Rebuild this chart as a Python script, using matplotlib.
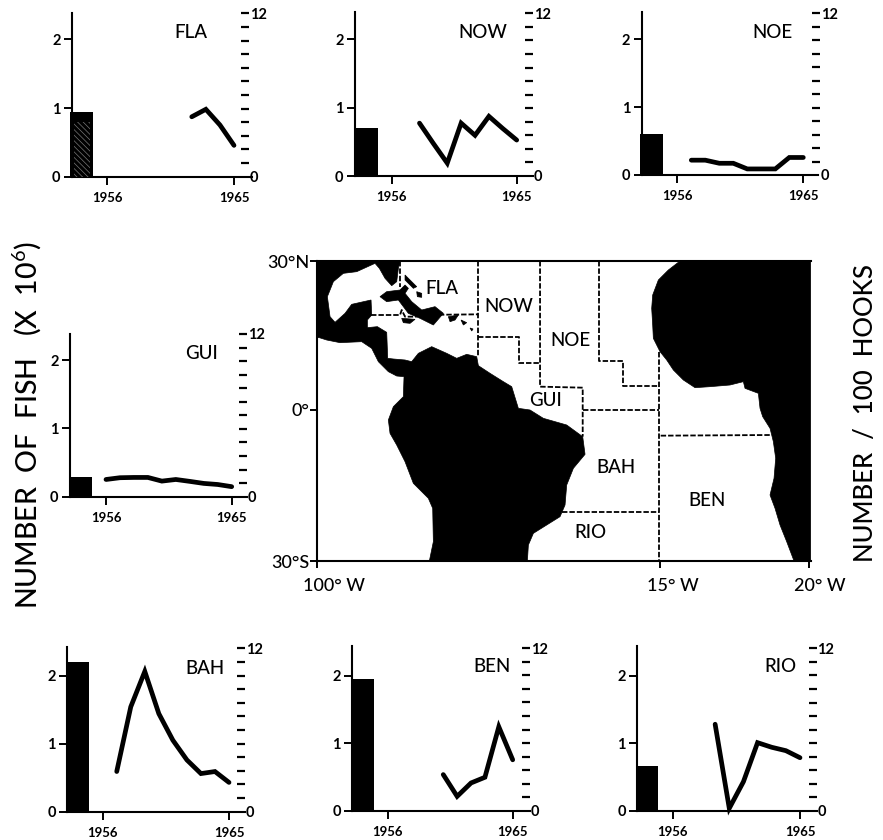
import matplotlib
matplotlib.use("Agg")
import matplotlib.pyplot as plt
import numpy as np
from matplotlib.patches import Polygon
from matplotlib.transforms import ScaledTranslation

plt.rcParams['font.family'] = ['Lato', 'DejaVu Sans']
plt.rcParams['mathtext.fontset'] = 'custom'
plt.rcParams['mathtext.rm'] = 'Lato'
plt.rcParams['hatch.linewidth'] = 0.5
W, H = 883, 840

# ---- data -----------------------------------------------------------
regions = ['FLA', 'NOW', 'NOE', 'GUI', 'BAH', 'BEN', 'RIO']
catch_millions = [0.94, 0.70, 0.60, 0.29, 2.20, 1.95, 0.67]
years_fla = [1962, 1963, 1964, 1965]
rate_fla = [4.4, 4.95, 3.8, 2.3]
years_now = [1958, 1959, 1960, 1961, 1962, 1963, 1964, 1965]
rate_now = [3.9, 2.4, 0.95, 3.9, 3.0, 4.4, 3.5, 2.65]
years_noe = [1957, 1958, 1959, 1960, 1961, 1962, 1963, 1964, 1965]
rate_noe = [1.1, 1.1, 0.87, 0.87, 0.45, 0.45, 0.45, 1.3, 1.3]
years_gui = [1956, 1957, 1958, 1959, 1960, 1961, 1962, 1963, 1964, 1965]
rate_gui = [1.27, 1.4, 1.42, 1.42, 1.15, 1.27, 1.13, 0.98, 0.9, 0.74]
years_bah = [1957, 1958, 1959, 1960, 1961, 1962, 1963, 1964, 1965]
rate_bah = [2.95, 7.7, 10.3, 7.2, 5.25, 3.8, 2.8, 2.95, 2.15]
years_ben = [1960, 1961, 1962, 1963, 1964, 1965]
rate_ben = [2.67, 1.06, 2.05, 2.47, 6.2, 3.76]
years_rio = [1959, 1960, 1961, 1962, 1963, 1964, 1965]
rate_rio = [6.4, 0.2, 2.16, 5.04, 4.7, 4.45, 3.93]
series = dict(FLA=(years_fla, rate_fla), NOW=(years_now, rate_now),
              NOE=(years_noe, rate_noe), GUI=(years_gui, rate_gui),
              BAH=(years_bah, rate_bah), BEN=(years_ben, rate_ben),
              RIO=(years_rio, rate_rio))
BAR_YEAR, BAR_WIDTH = 1954.18, 1.62

# map outlines, in tracing units
land_americas = [(80,48),(330,48),(325,70),(320,110),(305,122),(285,100),(268,70),(255,55),
    (200,80),(160,85),(130,110),(112,155),(120,215),(135,232),(165,205),(185,178),(243,165),(245,210),
    (232,225),(232,248),(262,245),(290,262),(293,340),(310,342),(345,345),(365,350),(385,325),(425,305),
    (470,325),(500,340),(530,328),(560,335),(565,362),(600,385),(640,410),(665,425),(685,490),(720,495),
    (760,520),(830,540),(878,575),(885,628),(850,670),(830,720),(825,780),(810,815),(770,840),(730,865),
    (715,900),(712,948),(418,948),(430,890),(428,790),(415,760),(370,715),(345,650),(320,600),(300,565),
    (295,525),(310,485),(340,455),(342,395),(320,393),(295,380),(265,350),(245,310),(215,290),(150,293),
    (110,285),(88,278),(80,278)]
land_africa = [(1170,48),(1135,75),(1105,105),(1088,150),(1085,190),(1088,240),(1090,280),(1110,320),
    (1130,345),(1150,375),(1180,405),(1215,428),(1260,425),(1320,420),(1360,410),(1365,430),(1405,445),
    (1410,490),(1418,515),(1440,550),(1450,590),(1457,640),(1452,700),(1440,750),(1455,790),(1470,840),
    (1490,890),(1512,948),(1562,948),(1562,48)]
islands = [
    [(270,155),(290,140),(330,135),(345,120),(355,130),(345,145),(365,170),(395,195),(435,185),(460,205),
     (430,240),(390,220),(355,205),(325,165),(290,170)],
    [(335,220),(375,223),(360,235),(340,233)],
    [(475,215),(505,210),(495,225),(480,230)],
    [(345,90),(380,125),(370,130),(345,105)],
    [(380,140),(395,145),(395,157),(382,155)],
    [(513,225),(530,233),(520,240)],
    [(540,249),(549,252),(545,258)],
]
boundaries = [
    [(330,48),(330,125)],
    [(243,210),(330,210),(335,195),(345,215),(380,215)],
    [(380,210),(565,208)],
    [(563,48),(563,335)],
    [(563,277),(687,277),(687,355),(750,355)],
    [(750,48),(750,425),(878,428),(878,575)],
    [(928,48),(928,348),(998,348),(998,423),(1108,423)],
    [(878,495),(1108,495)],
    [(1108,320),(1108,948)],
    [(1112,572),(1445,570)],
    [(815,800),(1108,800)],
]
map_labels = dict(FLA=(456,130), NOW=(657,185), NOE=(840,288), GUI=(765,468),
                  BAH=(978,668), BEN=(1252,766), RIO=(900,862))

# ---- panel layout (pixels) -------------------------------------------
#          spine  end  zero  two  top  y12  t56    t65    right tick
layout = dict(
    FLA=(72.0, 252.0, 176.7, 39.3, 13.0, 13.3, 107.3, 234.0, 245.0),
    NOW=(355.0, 533.0, 176.0, 39.3, 12.0, 13.3, 391.7, 516.7, 529.0),
    NOE=(641.7, 818.0, 175.0, 39.3, 12.0, 13.3, 677.3, 803.3, 816.0),
    GUI=(70.0, 246.7, 496.7, 360.0, 334.0, 333.5, 106.0, 231.7, 243.0),
    BAH=(67.3, 245.0, 811.7, 675.7, 646.7, 648.3, 102.7, 229.0, 241.0),
    BEN=(352.3, 530.0, 810.7, 675.7, 646.0, 648.3, 387.7, 512.7, 526.0),
    RIO=(637.3, 816.7, 811.0, 675.7, 646.0, 648.3, 672.7, 800.0, 812.5),
)
title_pos = dict(FLA=(191, 32), NOW=(483, 32), NOE=(772, 32), GUI=(202, 353),
                 BAH=(205, 668), BEN=(492, 667), RIO=(780, 667))
bar_hatch = dict(FLA='\\\\\\\\\\\\')

fig = plt.figure(figsize=(W/100, H/100), dpi=100, facecolor='white')
PX = 0.72  # points per pixel

def panel(name, catch):
    l, r, z, two, top, y12, t56, t65, rt = layout[name]
    ax = fig.add_axes([l/W, 1-z/H, (r-l)/W, (z-top)/H])
    step = (t65-t56)/9
    ax.set_xlim(1956+(l-t56)/step, 1956+(r-t56)/step)
    ax.set_ylim(0, (z-top)/(z-two)*2)
    ax.patch.set_alpha(0)
    for s in ('top', 'right'):
        ax.spines[s].set_visible(False)
    for s in ('left', 'bottom'):
        ax.spines[s].set_linewidth(1.5)
    ax.bar([BAR_YEAR], [catch], width=BAR_WIDTH, color='black', clip_on=False, zorder=3)
    if name in bar_hatch:
        ax.bar([BAR_YEAR], [catch*0.85], width=BAR_WIDTH*0.7, facecolor='none', edgecolor='#777777',
               linewidth=0, hatch=bar_hatch[name], zorder=4)
    ax.set_xticks([1956, 1965], ['1956', '1965'], fontsize=9.5, fontweight='bold')
    ax.set_yticks([0, 1, 2], ['0', '1', '2'], fontsize=10.5, fontweight='bold')
    ax.tick_params(axis='both', length=8*PX, width=1.4, pad=2.5)
    ax.tick_params(axis='x', pad=5)
    ax2 = ax.twinx()
    ax2.set_ylim(0, (z-top)/(z-y12)*12)
    for s in ('top', 'left', 'bottom'):
        ax2.spines[s].set_visible(False)
    ax2.spines['right'].set_position(('outward', (rt-r)*PX))
    ax2.spines['right'].set_visible(False)
    ax2.set_yticks(np.arange(0, 13))
    ax2.set_yticklabels(['0'] + ['']*11 + ['12'], fontsize=10.5, fontweight='bold')
    ax2.tick_params(axis='y', direction='inout', length=8*PX, width=1.6, pad=0.5)
    ax2.get_yaxis().get_major_ticks()[0].tick2line.set_visible(False)
    yrs, vals = series[name]
    ax2.plot(yrs, vals, color='black', lw=3.4, solid_capstyle='round', solid_joinstyle='miter', clip_on=False)
    fig.text(title_pos[name][0]/W, 1-title_pos[name][1]/H, name, fontsize=13.5,
             ha='center', va='center', fontweight='medium')

for name, catch in zip(regions, catch_millions):
    panel(name, catch)

# ---- map -------------------------------------------------------------
ml, mr, mt, mb = 316.7, 810.7, 261.0, 561.0
m = fig.add_axes([ml/W, 1-mb/H, (mr-ml)/W, (mb-mt)/H])
m.set_xlim(80, 1562)
m.set_ylim(948, 48)
for poly in [land_americas, land_africa] + islands:
    m.add_patch(Polygon(poly, closed=True, fc='black', ec='black', lw=0.5, zorder=2))
for seg in boundaries:
    xs, ys = zip(*seg)
    m.plot(xs, ys, color='black', lw=1.3, dashes=(3, 1.1), zorder=3)
for name, (x, y) in map_labels.items():
    m.text(x, y, name, fontsize=13.5, ha='center', va='center', zorder=4, fontweight='medium')
for s in m.spines.values():
    s.set_linewidth(1.5)
m.spines['right'].set_visible(False)
m.set_xticks([80, 1110, 1556])
m.set_xticklabels(['100° W', '15° W', '20° W'], fontsize=13, fontweight='medium')
m.set_yticks([48, 495, 948])
m.set_yticklabels(['30°N', '0°', '30°S'], fontsize=13, fontweight='medium')
m.tick_params(axis='both', length=7*PX, width=1.4, pad=3)
m.tick_params(axis='y', pad=0.5)
m.tick_params(axis='x', pad=7)
for lab, dx in zip(m.get_xticklabels(), (17, 13, 11)):
    lab.set_transform(lab.get_transform() + ScaledTranslation(dx/100, 0, fig.dpi_scale_trans))

# ---- shared axis titles ----------------------------------------------
fig.text(27/W, 1-425/H, 'NUMBER  OF  FISH   (X  10$^{6}$)', rotation=90,
         fontsize=20.5, ha='center', va='center', fontweight='medium')
fig.text(866/W, 1-413/H, 'NUMBER  /  100  HOOKS', rotation=90,
         fontsize=18.5, ha='center', va='center', fontweight='medium')

fig.savefig('out.png', dpi=100, facecolor='white')
